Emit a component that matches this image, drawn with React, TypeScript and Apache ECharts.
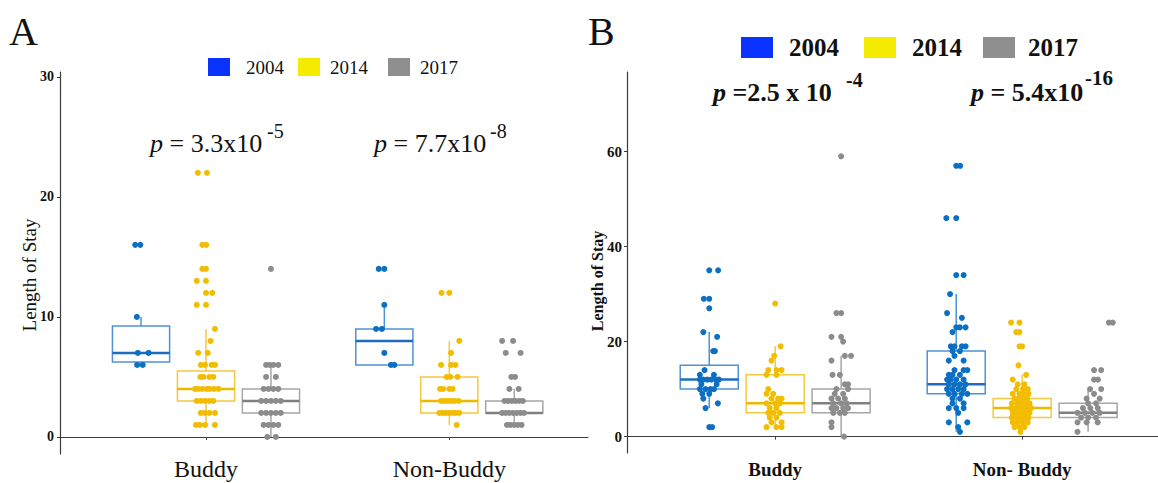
import React, { useEffect, useRef } from 'react';
import * as echarts from 'echarts';

const YEARS = ['2004', '2014', '2017'];
const CATS_A = ['Buddy', 'Non-Buddy'];
const CATS_B = ['Buddy', 'Non- Buddy'];
const TICKS_A = [0, 10, 20, 30];
const TICKS_B = [0, 20, 40, 60];

// [category, year, low whisker, q1, median, q3, high whisker]
const BOX_A = [
  [0, 0, 6, 6.25, 7, 9.25, 10],
  [0, 1, 1, 3, 4, 5.5, 9],
  [0, 2, 0, 2, 3, 4, 6],
  [1, 0, 6, 6, 8, 9, 11],
  [1, 1, 1, 2, 3, 5, 8],
  [1, 2, 1, 2, 2, 3, 4],
];
const BOX_B = [
  [0, 0, 6, 10, 12, 15, 22],
  [0, 1, 2, 5, 7, 13, 19],
  [0, 2, 0, 5, 7, 10, 17],
  [1, 0, 1, 9, 11, 18, 30],
  [1, 1, 1, 4, 6, 8, 13],
  [1, 2, 1, 4, 5, 7, 10],
];

// points: [horizontal jitter (category units), length of stay]
const A_BUDDY_2004 = [[-0.024, 16], [-0.003, 16], [-0.017, 10], [-0.013, 7], [0.031, 7], [-0.016, 6], [0.007, 6]];
const A_BUDDY_2014 = [
  [-0.033, 22], [0.004, 22], [-0.015, 16], [0.001, 16], [-0.015, 14], [0, 14], [-0.038, 13], [0, 13],
  [0, 12], [0.026, 12], [-0.038, 11], [0, 11], [0.037, 9], [0.019, 8], [-0.032, 7], [0.007, 7],
  [-0.021, 6], [-0.004, 6], [0.023, 6], [0.037, 6], [-0.023, 5], [-0.01, 5], [0.014, 5], [0.03, 5],
  [-0.045, 4], [-0.032, 4], [-0.015, 4], [0.003, 4], [0.016, 4], [0.033, 4], [0.051, 4],
  [-0.038, 3], [-0.021, 3], [-0.004, 3], [0.014, 3], [0.03, 3],
  [-0.021, 2], [-0.004, 2], [0.014, 2], [0.037, 2],
  [-0.041, 1], [-0.025, 1], [-0.004, 1], [0.037, 1],
];
const A_BUDDY_2017 = [
  [0, 14], [-0.02, 6], [-0.005, 6], [0.01, 6], [0.03, 6], [-0.02, 5], [0.02, 5],
  [-0.03, 4], [-0.01, 4], [0.01, 4], [0.03, 4], [-0.04, 3], [-0.02, 3], [0, 3], [0.02, 3], [0.04, 3],
  [-0.04, 2], [-0.02, 2], [0, 2], [0.02, 2], [0.04, 2], [-0.03, 1], [-0.01, 1], [0.01, 1], [0.03, 1],
  [-0.015, 0], [0.02, 0],
];
const A_NB_2004 = [[-0.023, 14], [0, 14], [0, 11], [-0.034, 9], [-0.01, 9], [0, 7], [0.027, 6], [0.041, 6]];
const A_NB_2014 = [
  [-0.032, 12], [0, 12], [0.041, 8], [0.007, 7], [-0.034, 6], [0.007, 6], [0.025, 6],
  [-0.011, 5], [0.004, 5], [0.034, 5], [-0.038, 4], [-0.025, 4], [0, 4], [0.014, 4],
  [-0.034, 3], [-0.021, 3], [-0.007, 3], [0.007, 3], [0.021, 3], [0.038, 3],
  [-0.041, 2], [-0.027, 2], [-0.014, 2], [0, 2], [0.014, 2], [0.027, 2], [0.041, 2], [0.03, 1],
];
const A_NB_2017 = [
  [-0.05, 8], [-0.005, 8], [-0.035, 7], [0.026, 7], [-0.012, 5], [0.003, 5], [-0.02, 4], [0.018, 4],
  [-0.04, 3], [-0.025, 3], [-0.01, 3], [0.005, 3], [0.02, 3], [0.035, 3],
  [-0.05, 2], [-0.035, 2], [-0.02, 2], [-0.005, 2], [0.01, 2], [0.025, 2], [0.04, 2],
  [-0.03, 1], [-0.015, 1], [0, 1], [0.015, 1], [0.03, 1],
];

const B_BUDDY_2004 = [
  [0, 35], [0.036, 35], [-0.022, 29], [0, 29], [0, 27], [-0.024, 22], [0.032, 21], [0.016, 18], [0.023, 18],
  [-0.019, 14], [-0.038, 13], [0.019, 13], [-0.038, 12], [-0.024, 12], [-0.008, 12], [0.008, 12], [0.026, 12], [0.039, 12],
  [-0.032, 11], [0.03, 11], [-0.038, 10], [-0.015, 10], [0.005, 10], [0.019, 10], [-0.028, 9], [0, 9],
  [-0.024, 8], [0.035, 7], [-0.015, 6], [0, 2], [0.012, 2],
];
const B_BUDDY_2014 = [
  [0, 28], [0.022, 19], [-0.004, 17], [-0.015, 16], [-0.028, 14], [0.005, 14], [0.026, 14], [-0.035, 13], [0.005, 13],
  [-0.028, 10], [-0.035, 9], [-0.008, 9], [-0.015, 8], [0.012, 8], [0.026, 8], [-0.035, 7], [0, 7], [0.019, 7],
  [-0.022, 6], [0.005, 6], [-0.028, 5], [-0.008, 5], [0.019, 5], [-0.022, 4], [0.005, 4], [-0.015, 3], [0.026, 3],
  [-0.035, 2], [0.005, 2], [0.026, 2],
];
const B_BUDDY_2017 = [
  [0, 59], [-0.019, 26], [0, 26], [-0.039, 21], [0, 21], [0.008, 20], [0.015, 17], [0.04, 17], [-0.039, 16],
  [-0.035, 13], [-0.005, 13], [0.015, 11], [0.028, 11], [-0.019, 10], [0.028, 10], [-0.026, 9], [0.008, 9],
  [-0.039, 8], [-0.012, 8], [0.015, 8], [-0.032, 7], [0, 7], [0.022, 7],
  [-0.039, 6], [-0.019, 6], [0.008, 6], [0.028, 6], [-0.032, 5], [-0.005, 5], [0.015, 5],
  [-0.039, 3], [-0.039, 2], [0.012, 0],
];
const B_NB_2004 = [
  [0, 57], [0.016, 57], [-0.04, 46], [0, 46], [0, 34], [0.03, 34], [-0.025, 30], [-0.037, 26], [0.023, 25],
  [0, 23], [0.015, 23], [0.038, 23], [-0.015, 22], [-0.022, 19], [-0.007, 19], [0.023, 19], [0.038, 19],
  [-0.015, 18], [0.015, 18], [-0.007, 17], [-0.03, 16], [0.03, 16], [-0.007, 14], [0.03, 14], [0.045, 14],
  [-0.03, 13], [-0.015, 13], [0.015, 13], [-0.037, 12], [-0.022, 12], [0, 12], [0.03, 12],
  [-0.03, 11], [-0.007, 11], [0.015, 11], [0.038, 11], [-0.037, 10], [-0.015, 10], [0.008, 10], [0.03, 10],
  [-0.03, 9], [-0.007, 9], [0.023, 9], [0.045, 9], [-0.015, 8], [0.015, 8], [-0.015, 7], [0.03, 7],
  [-0.03, 6], [0, 6], [0.03, 6], [0.008, 5], [-0.03, 3], [0.045, 3], [0.008, 2], [0.015, 1],
];
const B_NB_2014 = [
  [-0.045, 24], [-0.011, 24], [-0.024, 22], [-0.011, 22], [-0.011, 19], [0, 19], [-0.015, 15], [0.016, 13], [-0.038, 12],
  [-0.018, 11], [0.009, 11], [-0.024, 10], [0.003, 10], [0.023, 10],
  [-0.038, 9], [-0.011, 9], [0.009, 9], [0.026, 9], [-0.031, 8], [-0.015, 8], [0.003, 8], [0.02, 8],
  [-0.042, 7], [-0.02, 7], [-0.004, 7], [0.016, 7], [0.03, 7],
  [-0.045, 6], [-0.028, 6], [-0.011, 6], [0.007, 6], [0.023, 6], [0.036, 6],
  [-0.038, 5], [-0.02, 5], [-0.004, 5], [0.012, 5], [0.03, 5],
  [-0.042, 4], [-0.024, 4], [-0.007, 4], [0.009, 4], [0.026, 4],
  [-0.038, 3], [-0.018, 3], [0.003, 3], [0.023, 3], [-0.031, 2], [-0.011, 2], [0.009, 2], [-0.007, 1],
];
const B_NB_2017 = [
  [0.084, 24], [0.1, 24], [0.024, 14], [0.053, 14], [0.024, 12], [0.04, 12], [0.008, 10], [0.053, 10], [0.024, 9],
  [-0.006, 8], [0.047, 8], [0, 7], [0.032, 7], [-0.021, 6], [0.009, 6], [0.039, 6],
  [-0.043, 5], [-0.013, 5], [0.017, 5], [0.047, 5], [-0.028, 4], [0, 4], [0.032, 4],
  [-0.043, 3], [-0.006, 3], [0.039, 3], [-0.043, 1],
];

const POINTS_A = [[A_BUDDY_2004, A_NB_2004], [A_BUDDY_2014, A_NB_2014], [A_BUDDY_2017, A_NB_2017]];
const POINTS_B = [[B_BUDDY_2004, B_NB_2004], [B_BUDDY_2014, B_NB_2014], [B_BUDDY_2017, B_NB_2017]];

const DODGE = [-0.267, 0, 0.267];
const BOX_W = 0.235;
const POINT_COLORS = ['#0B6FC4', '#F2BD00', '#8C8C8C'];
const BOX_COLORS = ['#4D92D6', '#F4C842', '#A6A6A6'];
const MEDIAN_COLORS = ['#1D6CC0', '#ECB800', '#808080'];
const LEGEND_COLORS = ['#0A33FF', '#F5EB00', '#8F8F8F'];
const SERIF = 'Liberation Serif';
const AXIS_COLOR = '#3A3A3A';

function boxRender(params: any, api: any) {
  const x = api.value(0);
  const lo = api.value(1), q1 = api.value(2), med = api.value(3), q3 = api.value(4), hi = api.value(5);
  const yi = api.value(6);
  const tl = api.coord([x - BOX_W / 2, q3]);
  const br = api.coord([x + BOX_W / 2, q1]);
  const ml = api.coord([x - BOX_W / 2, med]);
  const mr = api.coord([x + BOX_W / 2, med]);
  const pHi = api.coord([x, hi]);
  const pQ3 = api.coord([x, q3]);
  const pQ1 = api.coord([x, q1]);
  const pLo = api.coord([x, lo]);
  const c = BOX_COLORS[yi];
  return {
    type: 'group',
    children: [
      { type: 'line', shape: { x1: pHi[0], y1: pHi[1], x2: pQ3[0], y2: pQ3[1] }, style: { stroke: c, lineWidth: 1.5 } },
      { type: 'line', shape: { x1: pQ1[0], y1: pQ1[1], x2: pLo[0], y2: pLo[1] }, style: { stroke: c, lineWidth: 1.5 } },
      { type: 'rect', shape: { x: tl[0], y: tl[1], width: br[0] - tl[0], height: br[1] - tl[1] }, style: { fill: 'none', stroke: c, lineWidth: 1.5 } },
      { type: 'line', shape: { x1: ml[0], y1: ml[1], x2: mr[0], y2: mr[1] }, style: { stroke: MEDIAN_COLORS[yi], lineWidth: 2.5 } },
    ],
  };
}

function boxSeries(boxes: number[][], idx: number) {
  return {
    type: 'custom',
    xAxisIndex: idx,
    yAxisIndex: idx,
    renderItem: boxRender,
    encode: { x: 0, y: [1, 2, 3, 4, 5] },
    data: boxes.map((b) => [b[0] + 1 + DODGE[b[1]], b[2], b[3], b[4], b[5], b[6], b[1]]),
    z: 2,
    silent: true,
  };
}

function pointSeries(points: number[][][][], idx: number) {
  return YEARS.map((yr, yi) => ({
    type: 'scatter',
    name: yr,
    xAxisIndex: idx,
    yAxisIndex: idx,
    symbolSize: 6,
    itemStyle: { color: POINT_COLORS[yi], opacity: 1 },
    z: 3,
    silent: true,
    data: points[yi].flatMap((grp, ci) => grp.map(([j, v]) => [ci + 1 + DODGE[yi] + j, v])),
  }));
}

function legend(x0: number[], y: number, w: number, h: number, textX: number[], font: any) {
  const els: any[] = [];
  YEARS.forEach((yr, i) => {
    els.push({ type: 'rect', shape: { x: x0[i], y, width: w, height: h }, style: { fill: LEGEND_COLORS[i] } });
    els.push({
      type: 'text', x: textX[i], y: y + h / 2,
      style: { text: yr, fill: '#111', fontFamily: SERIF, verticalAlign: 'middle', align: 'left', ...font },
    });
  });
  return els;
}

export default function App() {
  const ref = useRef<HTMLDivElement>(null);
  useEffect(() => {
    document.body.style.margin = '0';
    const chart = echarts.init(ref.current!, null, { renderer: 'svg' });
    const xAxisBase = (cats: string[], max: number, labelStyle: any, margin: number) => ({
      type: 'value', min: 0.4, max,
      axisLine: { show: true, lineStyle: { color: AXIS_COLOR, width: 1.2 } },
      axisTick: { show: true, customValues: [1, 2], length: 3, lineStyle: { color: AXIS_COLOR } },
      axisLabel: { customValues: [1, 2], formatter: (v: number) => cats[Math.round(v) - 1], margin, color: '#111', fontFamily: SERIF, ...labelStyle },
      splitLine: { show: false },
    });
    const yAxisBase = (ticks: number[], min: number, max: number, fontSize: number, margin: number) => ({
      type: 'value', min, max,
      axisLine: { show: true, lineStyle: { color: AXIS_COLOR, width: 1.2 } },
      axisTick: { show: true, customValues: ticks, length: 3, lineStyle: { color: AXIS_COLOR } },
      axisLabel: { customValues: ticks, margin, color: '#111', fontFamily: SERIF, fontWeight: 'bold', fontSize },
      splitLine: { show: false },
    });
    chart.setOption({
      animation: false,
      backgroundColor: '#ffffff',
      textStyle: { fontFamily: SERIF },
      grid: [
        { left: 60, top: 72, width: 528, height: 382, outerBoundsMode: 'none', containLabel: false },
        { left: 627, top: 72, width: 531, height: 381, outerBoundsMode: 'none', containLabel: false },
      ],
      xAxis: [
        { ...xAxisBase(CATS_A, 2.57, { fontSize: 24 }, 3), gridIndex: 0 },
        { ...xAxisBase(CATS_B, 2.55, { fontSize: 19, fontWeight: 'bold' }, 7), gridIndex: 1 },
      ],
      yAxis: [
        { ...yAxisBase(TICKS_A, -1.42, 30.4, 14, 6), gridIndex: 0 },
        { ...yAxisBase(TICKS_B, -3.45, 76.75, 15, 5), gridIndex: 1 },
      ],
      series: [
        boxSeries(BOX_A, 0),
        boxSeries(BOX_B, 1),
        ...pointSeries(POINTS_A, 0),
        ...pointSeries(POINTS_B, 1),
      ],
      graphic: [
        { type: 'text', x: 9, y: 31, style: { text: 'A', fontFamily: SERIF, fontSize: 40, fill: '#111', verticalAlign: 'middle' } },
        { type: 'text', x: 588, y: 31, style: { text: 'B', fontFamily: SERIF, fontSize: 40, fill: '#111', verticalAlign: 'middle' } },
        ...legend([208, 298, 388], 58, 22, 18, [246, 330, 420], { fontSize: 19 }),
        ...legend([741, 864, 983], 37, 32, 21, [789, 912, 1028], { fontSize: 25, fontWeight: 'bold' }),
        {
          type: 'text', x: 29, y: 275, rotation: Math.PI / 2,
          style: { text: 'Length of Stay', fontFamily: SERIF, fontSize: 19, fill: '#111', align: 'center', verticalAlign: 'middle' },
        },
        {
          type: 'text', x: 597, y: 281, rotation: Math.PI / 2,
          style: { text: 'Length of Stay', fontFamily: SERIF, fontSize: 16, fontWeight: 'bold', fill: '#111', align: 'center', verticalAlign: 'middle' },
        },
        {
          type: 'text', x: 150, y: 143,
          style: { text: '{i|p} = 3.3x10', fontFamily: SERIF, fontSize: 26, fill: '#111', verticalAlign: 'middle', rich: { i: { fontStyle: 'italic', fontFamily: SERIF, fontSize: 26, fill: '#111' } } },
        },
        { type: 'text', x: 267, y: 131, style: { text: '-5', fontFamily: SERIF, fontSize: 20, fill: '#111', verticalAlign: 'middle' } },
        {
          type: 'text', x: 374, y: 143,
          style: { text: '{i|p} = 7.7x10', fontFamily: SERIF, fontSize: 26, fill: '#111', verticalAlign: 'middle', rich: { i: { fontStyle: 'italic', fontFamily: SERIF, fontSize: 26, fill: '#111' } } },
        },
        { type: 'text', x: 490, y: 131, style: { text: '-8', fontFamily: SERIF, fontSize: 20, fill: '#111', verticalAlign: 'middle' } },
        {
          type: 'text', x: 713, y: 92,
          style: { text: '{i|p} =2.5 x 10', fontFamily: SERIF, fontSize: 26, fontWeight: 'bold', fill: '#111', verticalAlign: 'middle', rich: { i: { fontStyle: 'italic', fontWeight: 'bold', fontFamily: SERIF, fontSize: 26, fill: '#111' } } },
        },
        { type: 'text', x: 846, y: 80, style: { text: '-4', fontFamily: SERIF, fontSize: 20, fontWeight: 'bold', fill: '#111', verticalAlign: 'middle' } },
        {
          type: 'text', x: 971, y: 92,
          style: { text: '{i|p} = 5.4x10', fontFamily: SERIF, fontSize: 26, fontWeight: 'bold', fill: '#111', verticalAlign: 'middle', rich: { i: { fontStyle: 'italic', fontWeight: 'bold', fontFamily: SERIF, fontSize: 26, fill: '#111' } } },
        },
        { type: 'text', x: 1085, y: 78, style: { text: '-16', fontFamily: SERIF, fontSize: 21, fontWeight: 'bold', fill: '#111', verticalAlign: 'middle' } },
      ],
    });
    return () => chart.dispose();
  }, []);
  return <div ref={ref} style={{ width: 1158, height: 483 }} />;
}
